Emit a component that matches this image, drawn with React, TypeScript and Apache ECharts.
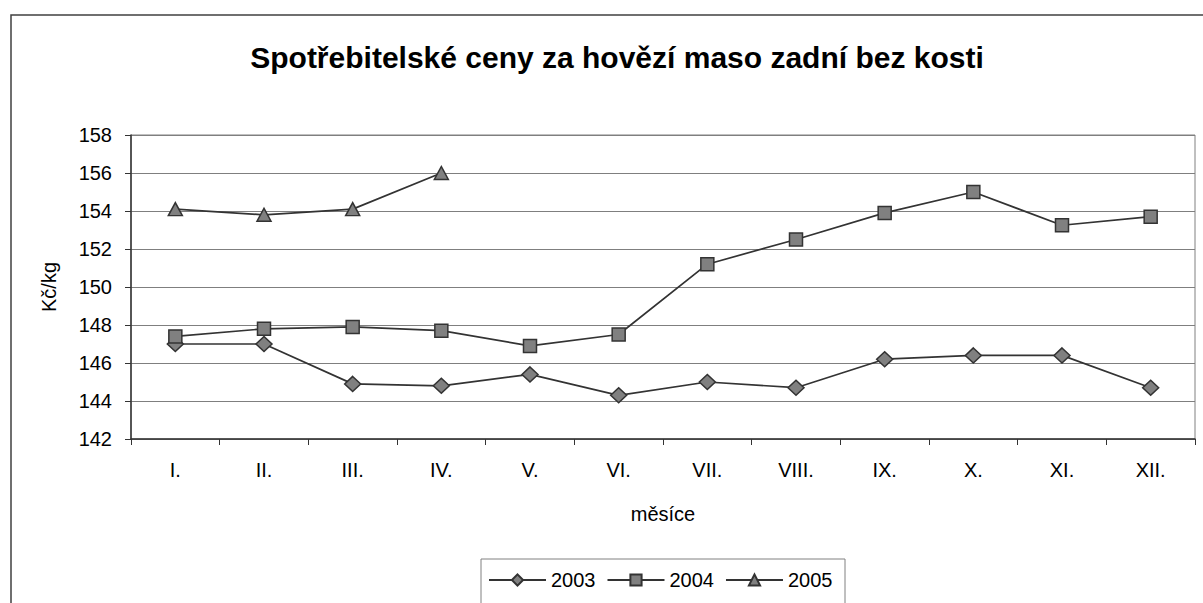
import React, { useEffect, useRef } from "react";
import * as echarts from "echarts";

const categories = ["I.", "II.", "III.", "IV.", "V.", "VI.", "VII.", "VIII.", "IX.", "X.", "XI.", "XII."];
const s2003 = [147.0, 147.0, 144.9, 144.8, 145.4, 144.3, 145.0, 144.7, 146.2, 146.4, 146.4, 144.7];
const s2004 = [147.4, 147.8, 147.9, 147.7, 146.9, 147.5, 151.2, 152.5, 153.9, 155.0, 153.25, 153.7];
const s2005 = [154.1, 153.8, 154.1, 156.0, null, null, null, null, null, null, null, null];
const seriesNames = ["2003", "2004", "2005"];
const yMin = 142;
const yMax = 158;
const yStep = 2;

const FONT = "'Liberation Sans', Arial, sans-serif";

export default function App() {
  const ref = useRef<HTMLDivElement>(null);
  useEffect(() => {
    if (!ref.current) return;
    const chart = echarts.init(ref.current, null, { renderer: "svg" });
    const markerStyle = { color: "#808080", borderColor: "#333333", borderWidth: 1.5 };
    const mk = (name: string, data: (number | null)[], symbol: string, size: number | number[]) => ({
      name,
      type: "line",
      data,
      symbol,
      symbolSize: size,
      showAllSymbol: true,
      connectNulls: false,
      lineStyle: { color: "#333333", width: 1.7 },
      itemStyle: markerStyle,
      z: 3,
    });
    chart.setOption({
      animation: false,
      backgroundColor: "#ffffff",
      textStyle: { fontFamily: FONT },
      title: {
        text: "Spotřebitelské ceny za hovězí maso zadní bez kosti",
        left: 612,
        textAlign: "center",
        top: 37,
        textStyle: { fontFamily: FONT, fontSize: 30, fontWeight: "bold", color: "#000" },
      },
      graphic: [
        {
          type: "rect",
          shape: { x: 11, y: 15, width: 1200, height: 600 },
          style: { fill: "none", stroke: "#404040", lineWidth: 1.5 },
          silent: true,
          z: -10,
        },
        {
          type: "rect",
          shape: { x: 481, y: 559, width: 364, height: 60 },
          style: { fill: "none", stroke: "#808080", lineWidth: 1 },
          silent: true,
        },
      ],
      legend: {
        data: seriesNames,
        left: 488,
        top: 570,
        padding: 0,
        itemWidth: 57,
        itemHeight: 14,
        itemGap: 11,
        textStyle: { fontFamily: FONT, fontSize: 20, color: "#000" },
      },
      grid: {
        left: 131,
        top: 135,
        width: 1064,
        height: 304,
        show: true,
        borderColor: "#808080",
        borderWidth: 1,
        containLabel: false,
      },
      xAxis: {
        type: "category",
        data: categories,
        boundaryGap: true,
        name: "měsíce",
        nameLocation: "middle",
        nameGap: 65,
        nameTextStyle: { fontFamily: FONT, fontSize: 20, color: "#000" },
        axisLine: { lineStyle: { color: "#333333", width: 1.5 } },
        axisTick: { show: true, length: 6, inside: false, lineStyle: { color: "#333333" } },
        axisLabel: { fontFamily: FONT, fontSize: 20, color: "#000", margin: 21 },
        splitLine: { show: false },
      },
      yAxis: {
        type: "value",
        min: yMin,
        max: yMax,
        interval: yStep,
        name: "Kč/kg",
        nameLocation: "middle",
        nameGap: 72,
        nameRotate: 90,
        nameTextStyle: { fontFamily: FONT, fontSize: 20, color: "#000" },
        axisLine: { show: true, lineStyle: { color: "#333333", width: 1.5 } },
        axisTick: { show: true, length: 6, lineStyle: { color: "#333333" } },
        axisLabel: { fontFamily: FONT, fontSize: 20, color: "#000", margin: 19 },
        splitLine: { show: true, lineStyle: { color: "#7f7f7f", width: 1.2 } },
      },
      series: [
        mk(seriesNames[0], s2003, "diamond", [16, 15]),
        mk(seriesNames[1], s2004, "rect", 13),
        mk(seriesNames[2], s2005, "triangle", [14, 13]),
      ],
    });
    return () => chart.dispose();
  }, []);
  return (
    <div
      ref={ref}
      style={{ position: "fixed", left: 0, top: 0, width: 1203, height: 603, background: "#fff" }}
    />
  );
}
